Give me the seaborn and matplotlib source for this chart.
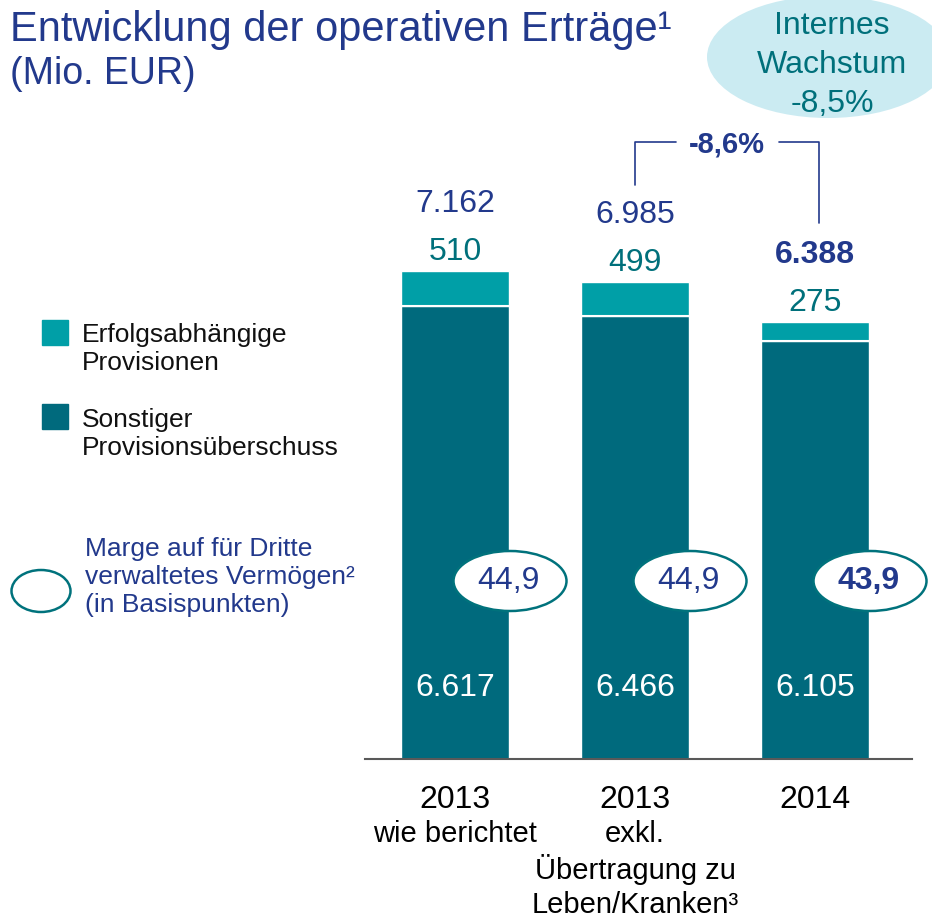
import matplotlib
matplotlib.use("Agg")
import matplotlib.pyplot as plt
import seaborn as sns
import pandas as pd
from matplotlib.patches import Ellipse, Rectangle

# Daten
kategorien = ["2013 wie berichtet", "2013 exkl.", "2014"]
jahre = ["2013", "2013", "2014"]
untertitel = ["wie berichtet", "exkl.\nÜbertragung zu\nLeben/Kranken³", ""]
sonstiger = [6617, 6466, 6105]
erfolg = [510, 499, 275]
gesamt = ["7.162", "6.985", "6.388"]
marge = ["44,9", "44,9", "43,9"]
veraenderung = "-8,6%"
internes_wachstum = "-8,5%"

hell = "#009FA7"
dunkel = "#006A7D"
navy = "#22398C"
teal_text = "#00707B"

sns.set_style("white")
plt.rcParams["font.family"] = ["Liberation Sans", "DejaVu Sans"]

df = pd.DataFrame({"kat": kategorien, "sonstiger": sonstiger,
                   "stapel": [s + e for s, e in zip(sonstiger, erfolg)]})

W, H = 932, 921
fig = plt.figure(figsize=(W / 100, H / 100), dpi=100)

def px(x, y):
    return x / W, 1 - y / H

ax = fig.add_axes([365 / W, (H - 759) / H, (912 - 365) / W, 759 / H])
sns.barplot(data=df, x="kat", y="stapel", color=hell, saturation=1, width=0.6, ax=ax)
sns.barplot(data=df, x="kat", y="sonstiger", color=dunkel, saturation=1, width=0.6, ax=ax)
ax.set_xlim(-0.5, (912 - 455) / 180)
ax.set_ylim(0, 759 / 0.0685)

# weisse Trennlinie
for i, s in enumerate(sonstiger):
    ax.plot([i - 0.3, i + 0.3], [s, s], color="white", lw=1.5, solid_capstyle="butt")

for sp in ["top", "right", "left"]:
    ax.spines[sp].set_visible(False)
ax.spines["bottom"].set_color("#595959")
ax.spines["bottom"].set_linewidth(1.5)
ax.set_xlabel("")
ax.set_ylabel("")
ax.set_yticks([])
ax.set_xticks(range(3))
ax.set_xticklabels(jahre, fontsize=23, color="black")
ax.tick_params(axis="x", length=0, pad=19)

for i in range(3):
    top = sonstiger[i] + erfolg[i]
    ax.annotate(str(erfolg[i]), xy=(i, top), xytext=(0, 13.5), textcoords="offset points",
                ha="center", va="center", fontsize=23, color=teal_text)
    ax.annotate(gesamt[i], xy=(i, top), xytext=(0, 48), textcoords="offset points",
                ha="center", va="center", fontsize=23, color=navy,
                fontweight="bold" if i == 2 else "normal")
    ax.annotate(f"{sonstiger[i]:,}".replace(",", "."), xy=(i, 0), xytext=(0, 51),
                textcoords="offset points", ha="center", va="center", fontsize=23, color="white")
    ax.annotate(untertitel[i], xy=(i, 0), xytext=(0, -44), textcoords="offset points",
                ha="center", va="top", fontsize=21, color="black", linespacing=1.25)
    # Marge Ellipse
    ex, ey = i + 55 / 180, 178 / 0.0685
    ax.add_patch(Ellipse((ex, ey), 113 / 180, 60 / 0.0685, facecolor="white",
                         edgecolor="#00727C", lw=1.8, clip_on=False, zorder=5))
    ax.text(ex - 0.01, ey, marge[i], ha="center", va="center", fontsize=23, color=navy,
            fontweight="bold" if i == 2 else "normal", zorder=6)

# Klammer -8,6%
yb = 617 / 0.0685
ax.plot([1, 1, 1 + 41 / 180], [574 / 0.0685, yb, yb], color=navy, lw=1.2, clip_on=False)
ax.plot([2 - 36 / 180, 2.02, 2.02], [yb, yb, 536 / 0.0685], color=navy, lw=1.2, clip_on=False)
ax.text(1.51, yb - 30, veraenderung, ha="center", va="center", fontsize=21, color=navy,
        fontweight="bold")

# Titel
fig.text(*px(10, 30), "Entwicklung der operativen Erträge¹", fontsize=30, color=navy, va="center")
fig.text(*px(10, 74), "(Mio. EUR)", fontsize=27, color=navy, va="center")

# Internes Wachstum
fig.patches.append(Ellipse(px(828, 57), 242 / W, 122 / H, transform=fig.transFigure,
                           facecolor="#CBEBF2", edgecolor="none"))
fig.text(*px(832, 65), "Internes\nWachstum\n" + internes_wachstum, fontsize=23, color=teal_text,
         ha="center", va="center", linespacing=1.38)

# Legende
fig.patches.append(Rectangle(px(42, 345), 26 / W, 25 / H, transform=fig.transFigure, color=hell))
fig.patches.append(Rectangle(px(42, 429), 26 / W, 25 / H, transform=fig.transFigure, color=dunkel))
fig.text(*px(82, 349), "Erfolgsabhängige\nProvisionen", fontsize=19, color="#111111", va="center")
fig.text(*px(82, 434), "Sonstiger\nProvisionsüberschuss", fontsize=19, color="#111111", va="center")
fig.patches.append(Ellipse(px(41, 591), 59 / W, 42 / H, transform=fig.transFigure,
                           facecolor="white", edgecolor="#00727C", lw=1.8))
fig.text(*px(85, 577), "Marge auf für Dritte\nverwaltetes Vermögen²\n(in Basispunkten)",
         fontsize=19, color=navy, va="center")

fig.savefig("out.png", dpi=100)
